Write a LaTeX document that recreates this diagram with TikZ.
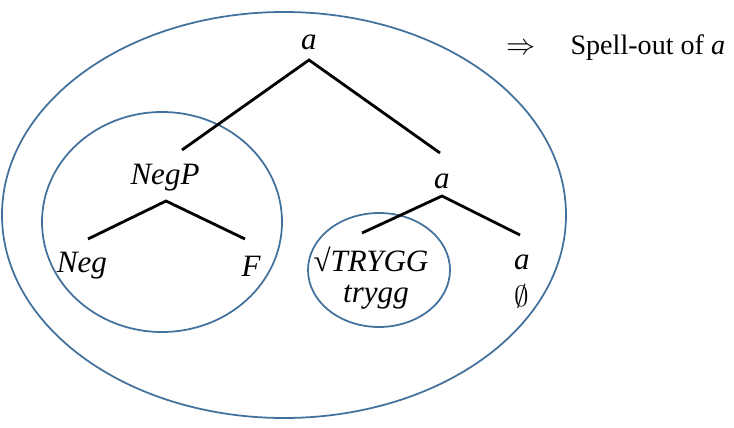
\documentclass[tikz,border=0pt]{standalone}
\usepackage{fontspec}
\setmainfont{Liberation Serif}
\usepackage{xcolor}
\usepackage{tikz}
\definecolor{ringblue}{RGB}{65,113,156}

\begin{document}
\begin{tikzpicture}[
  x=0.03cm, y=-0.03cm, font=\fontsize{24}{28}\selectfont,
  lab/.style={inner sep=0pt, font=\fontsize{26.5}{30}\selectfont\itshape},
  branch/.style={line width=2.4pt},
  ring/.style={draw=ringblue, line width=1.5pt}]
\useasboundingbox (0,0) rectangle (734,428);
% domains
\draw[ring] (284,215) ellipse [x radius=282, y radius=203];
\draw[ring] (162,222) ellipse [x radius=120, y radius=110];
\draw[ring] (379,270) ellipse [x radius=71, y radius=57];
% labels
\node[lab] (root) at (309,42) {a};
\node[lab] (negp) at (165,178) {NegP};
\node[lab] (neg) at (82,266) {Neg};
\node[lab] (f) at (251,266) {F};
\node[lab] (a1) at (442,181) {a};
\node[lab] (root2) at (371,259) {\upshape√\itshape TRYGG};
\node[lab] (trygg) at (376,297) {trygg};
\node[lab] (a2) at (522,262) {a};
\node[inner sep=0pt, font=\fontsize{26}{30}\selectfont] (nul) at (522,296) {$\emptyset$};
\node[anchor=west, inner sep=0pt] (spell) at (506,48) {$\Rightarrow$\quad\ Spell-out of \textit{a}};
% branch points
\coordinate (v0) at (309,60);
\coordinate (v1) at (166,201);
\coordinate (v2) at (442,196);
\coordinate (e1) at (182,150);
\coordinate (e2) at (440,153);
\coordinate (e3) at (88,239);
\coordinate (e4) at (245,239);
\coordinate (e5) at (362,233);
\coordinate (e6) at (520,235);
% branches
\draw[branch] (e1) -- (v0) -- (e2);
\draw[branch] (e3) -- (v1) -- (e4);
\draw[branch] (e5) -- (v2) -- (e6);
\end{tikzpicture}
\end{document}
